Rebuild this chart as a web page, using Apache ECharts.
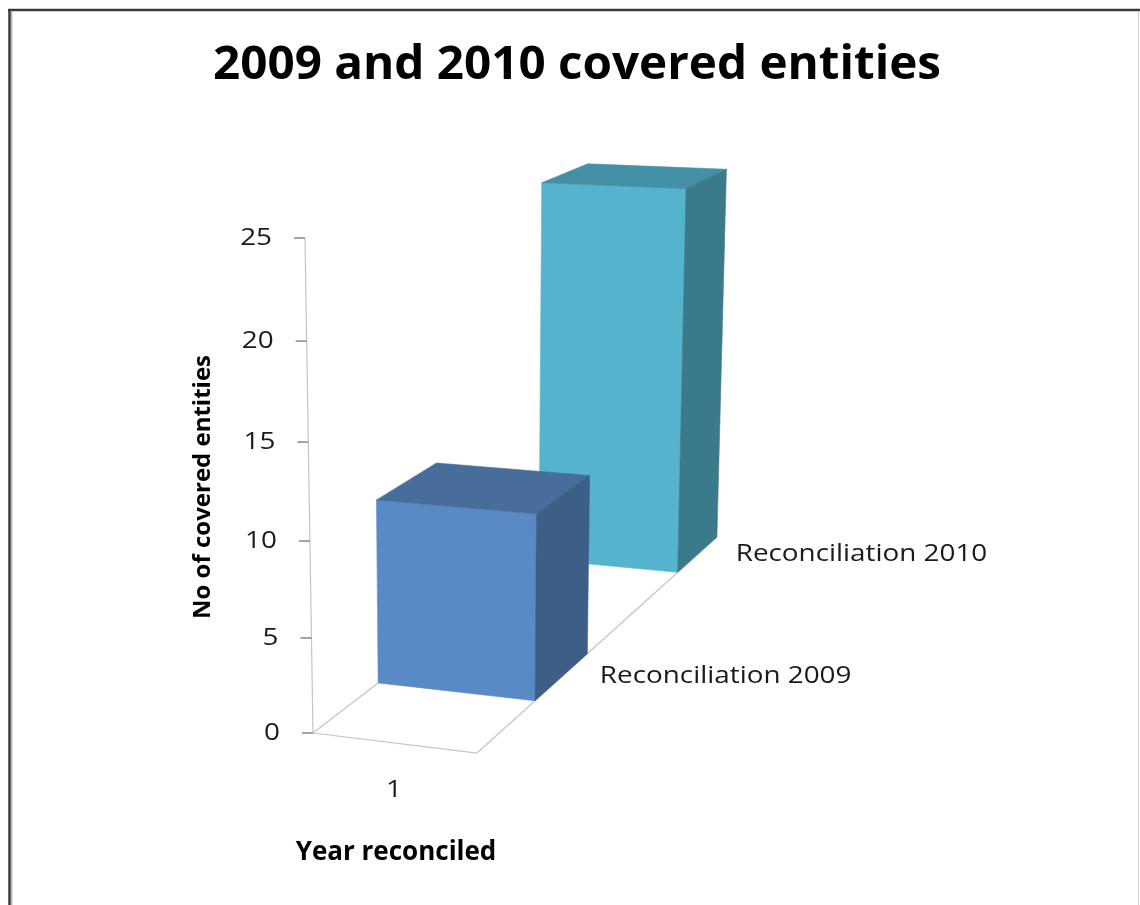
<!DOCTYPE html>
<html>
<head>
<meta charset="utf-8">
<script src="https://cdn.jsdelivr.net/npm/echarts@6/dist/echarts.min.js"></script>
<style>
  html, body { margin: 0; padding: 0; background: #ffffff; }
  #chart { width: 1140px; height: 905px; }
</style>
</head>
<body>
<div id="chart"></div>
<script>
// Category along the front axis
const categories = ['1'];
// Series laid out one behind the other along the depth axis
const seriesNames = ['Reconciliation 2009', 'Reconciliation 2010'];
const values2009 = [10];
const values2010 = [23];
// Value axis
const valueTicks = [0, 5, 10, 15, 20, 25];
const valueMax = 25;

const titleText = '2009 and 2010 covered entities';
const yAxisTitle = 'No of covered entities';
const xAxisTitle = 'Year reconciled';

// Perspective camera for the 3D column scene.
// The front plane is taken from the cartesian grid (api.coord); depth is counted in series slots.
const CAM = {
  p: -0.023,            // foreshortening across the category band
  q: -0.00198,          // foreshortening up the value axis
  r: 0.162,             // foreshortening per depth slot
  skewXY: -0.924,       // horizontal drift per value unit
  skewYX: 2.72,         // vertical drift across one category band
  vanish: [1585, -245]  // vanishing point of the depth direction
};
const BAR_FRONT = 1 / 3, BAR_BACK = 2 / 3;   // bar extent inside its depth slot

const SHADES = [
  { front: '#5a8ac6', top: '#476d9b', side: '#3c5e87' },
  { front: '#56b3cd', top: '#4390a7', side: '#3a7a8a' }
];
const FONT = '"Open Sans", "DejaVu Sans", sans-serif';
const TEXT_STRETCH = 1.16;
const AXIS_GREY = '#c4c4c4';

function makeProjector(api) {
  const bandW = api.size([1, 0])[0];
  return function (X, Y, Z) {
    const c = api.coord([0, Y]);
    const nx = c[0] + (X - 0.5) * bandW + CAM.skewXY * Y + CAM.r * CAM.vanish[0] * Z;
    const ny = c[1] + CAM.skewYX * X + CAM.r * CAM.vanish[1] * Z;
    const w = 1 + CAM.p * X + CAM.q * Y + CAM.r * Z;
    return [nx / w, ny / w];
  };
}

function seg(a, b, color, width) {
  return {
    type: 'line',
    shape: { x1: a[0], y1: a[1], x2: b[0], y2: b[1] },
    style: { stroke: color, lineWidth: width || 1.2 }
  };
}

function label(pt, text, align, opts) {
  opts = opts || {};
  return {
    type: 'text',
    x: pt[0], y: pt[1],
    scaleX: opts.stretch || TEXT_STRETCH,
    style: {
      text: text,
      fill: opts.color || '#1a1a1a',
      fontFamily: FONT,
      fontSize: opts.size || 24,
      fontWeight: opts.weight || 'normal',
      align: align,
      verticalAlign: 'middle'
    }
  };
}

function barSeries(name, values, slot) {
  const shade = SHADES[slot];
  return {
    type: 'custom',
    name: name,
    clip: false,
    data: values.map((v, i) => [i, v]),
    renderItem: function (params, api) {
      const P = makeProjector(api);
      const ci = api.value(0);
      const v = api.value(1);
      const x0 = ci, x1 = ci + 1;
      const zf = slot + BAR_FRONT, zb = slot + BAR_BACK;
      const poly = (pts, color) => ({
        type: 'polygon',
        shape: { points: pts },
        style: { fill: color, stroke: color, lineWidth: 0.6 }
      });
      return {
        type: 'group',
        children: [
          poly([P(x0, 0, zf), P(x1, 0, zf), P(x1, v, zf), P(x0, v, zf)], shade.front),
          poly([P(x0, v, zf), P(x1, v, zf), P(x1, v, zb), P(x0, v, zb)], shade.top),
          poly([P(x1, 0, zf), P(x1, 0, zb), P(x1, v, zb), P(x1, v, zf)], shade.side)
        ]
      };
    }
  };
}

const chart = echarts.init(document.getElementById('chart'), null, { renderer: 'canvas' });

const option = {
  animation: false,
  backgroundColor: '#ffffff',
  grid: { left: 313, top: 226.25, width: 153.05, height: 506.75 },
  xAxis: { type: 'category', data: categories, show: false },
  yAxis: { type: 'value', min: 0, max: valueMax, interval: 5, show: false },
  graphic: [
    // frame
    { type: 'line', shape: { x1: 8, y1: 10, x2: 1140, y2: 10 }, style: { stroke: '#3a3a3a', lineWidth: 2.5 } },
    { type: 'line', shape: { x1: 9.5, y1: 9, x2: 9.5, y2: 905 }, style: { stroke: '#3a3a3a', lineWidth: 2.5 } },
    { type: 'line', shape: { x1: 11.8, y1: 11.5, x2: 11.8, y2: 905 }, style: { stroke: '#a8a8a8', lineWidth: 1.2 } },
    { type: 'line', shape: { x1: 1138.5, y1: 11, x2: 1138.5, y2: 905 }, style: { stroke: '#d0d0d0', lineWidth: 1 } },
    // titles
    {
      type: 'text', x: 577, y: 66, scaleX: 1.035,
      style: { text: titleText, fill: '#000000', fontFamily: FONT, fontSize: 46, fontWeight: 'bold', align: 'center', verticalAlign: 'middle' }
    },
    {
      type: 'text', x: 203, y: 487, rotation: Math.PI / 2,
      style: { text: yAxisTitle, fill: '#000000', fontFamily: FONT, fontSize: 24, fontWeight: 'bold', align: 'center', verticalAlign: 'middle' }
    },
    {
      type: 'text', x: 396, y: 853,
      style: { text: xAxisTitle, fill: '#000000', fontFamily: FONT, fontSize: 26, fontWeight: 'bold', align: 'center', verticalAlign: 'middle' }
    }
  ],
  series: [
    // floor edges and axis lines
    {
      type: 'custom',
      clip: false,
      silent: true,
      data: [[0, 0]],
      renderItem: function (params, api) {
        const P = makeProjector(api);
        const nCat = categories.length;
        const depthEnd = seriesNames.length - 1 + BAR_BACK;
        return {
          type: 'group',
          children: [
            seg(P(0, 0, 0), P(nCat, 0, 0), AXIS_GREY),
            seg(P(0, 0, 0), P(0, 0, seriesNames.length), AXIS_GREY),
            seg(P(nCat, 0, 0), P(nCat, 0, depthEnd), AXIS_GREY),
            seg(P(0, 0, 0), P(0, valueMax, 0), AXIS_GREY)
          ]
        };
      }
    },
    // value ticks and labels
    {
      type: 'custom',
      clip: false,
      silent: true,
      data: valueTicks.map(v => [0, v]),
      renderItem: function (params, api) {
        const P = makeProjector(api);
        const v = api.value(1);
        const p = P(0, v, 0);
        return {
          type: 'group',
          children: [
            seg([p[0] - 11, p[1]], p, '#8f8f8f', 1.6),
            label([p[0] - 33, p[1]], String(v), 'right')
          ]
        };
      }
    },
    // category labels
    {
      type: 'custom',
      clip: false,
      silent: true,
      data: categories.map((c, i) => [i, 0]),
      renderItem: function (params, api) {
        const P = makeProjector(api);
        const i = api.value(0);
        const p = P(i + 0.5, 0, 0);
        return label([p[0], p[1] + 47], categories[params.dataIndex], 'center');
      }
    },
    // bars, back row first
    barSeries(seriesNames[1], values2010, 1),
    barSeries(seriesNames[0], values2009, 0),
    // depth axis labels
    {
      type: 'custom',
      clip: false,
      silent: true,
      data: seriesNames.map((n, i) => [0, 0]),
      renderItem: function (params, api) {
        const P = makeProjector(api);
        const i = params.dataIndex;
        const p = P(categories.length, 0, i + 0.5);
        return label([p[0] + 38, p[1]], seriesNames[i], 'left');
      }
    }
  ]
};

chart.setOption(option);
</script>
</body>
</html>
